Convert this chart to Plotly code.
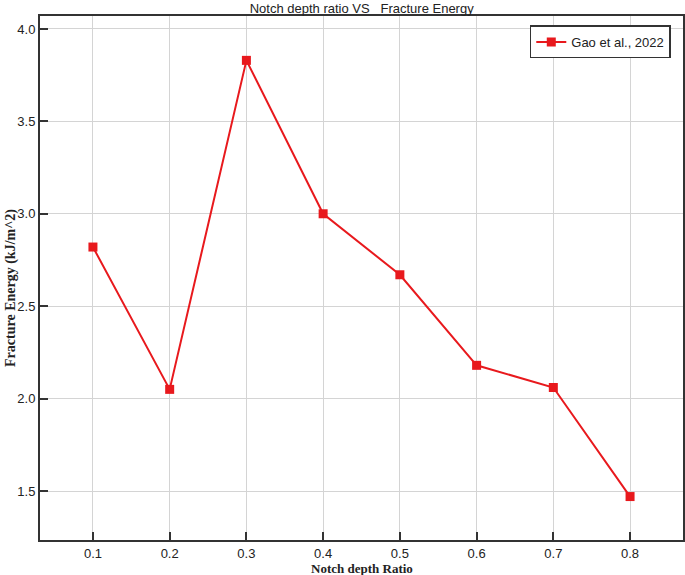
import plotly.graph_objects as go

notch_ratio = [0.1, 0.2, 0.3, 0.4, 0.5, 0.6, 0.7, 0.8]
fracture_energy = [2.82, 2.05, 3.83, 3.00, 2.67, 2.18, 2.06, 1.47]
x_ticks = [0.1, 0.2, 0.3, 0.4, 0.5, 0.6, 0.7, 0.8]
y_ticks = [1.5, 2.0, 2.5, 3.0, 3.5, 4.0]

fig = go.Figure()
fig.add_trace(go.Scatter(
    x=notch_ratio, y=fracture_energy, name="Gao et al., 2022",
    mode="lines+markers",
    line=dict(color="#e8191d", width=2),
    marker=dict(symbol="square", size=9, color="#e8191d"),
))

axis_common = dict(
    showline=True, linecolor="#333333", linewidth=2, mirror=True,
    ticks="inside", ticklen=8, tickcolor="#333333", tickwidth=1.5,
    showgrid=True, gridcolor="#d4d4d4", gridwidth=1, zeroline=False,
    automargin=False,
    tickfont=dict(family="Liberation Sans, Arial", size=13, color="#222222"),
)

fig.update_layout(
    width=685, height=575,
    paper_bgcolor="white", plot_bgcolor="white",
    margin=dict(l=40, r=2, t=16, b=35),
    title=dict(text="Notch depth ratio VS   Fracture Energy", x=0.528, xanchor="center",
               y=0.986, yanchor="middle",
               font=dict(family="Liberation Sans, Arial", size=13, color="#222222")),
    xaxis=dict(range=[0.031, 0.869], tickvals=x_ticks, ticktext=[f"{v:.1f}" for v in x_ticks],
               **axis_common),
    yaxis=dict(range=[1.235, 4.07], tickvals=y_ticks, ticktext=[f"{v:.1f}" for v in y_ticks],
               **axis_common),
    showlegend=True,
    legend=dict(x=0.981, y=0.982, xanchor="right", yanchor="top",
                bgcolor="white", bordercolor="#333333", borderwidth=1.5,
                font=dict(family="Liberation Sans, Arial", size=13, color="#222222")),
)

# axis titles as annotations for exact placement
fig.add_annotation(text="<b>Notch depth Ratio</b>", xref="x domain", yref="y domain",
                   x=0.5, y=-0.048, yanchor="middle", yshift=-3, showarrow=False,
                   font=dict(family="Liberation Serif, Times New Roman", size=13, color="#222222"))
fig.add_annotation(text="<b>Fracture Energy (kJ/m^2)</b>", xref="paper", yref="y domain",
                   x=0, xanchor="left", xshift=-39, y=0.481, textangle=-90,
                   showarrow=False,
                   font=dict(family="Liberation Serif, Times New Roman", size=14, color="#222222"))

# page has a default 8px body margin; drop it so the figure sits at 0,0
fig.write_html("out.html", config={"displayModeBar": False},
               post_script="document.body.style.margin='0';document.body.style.overflow='hidden';")
